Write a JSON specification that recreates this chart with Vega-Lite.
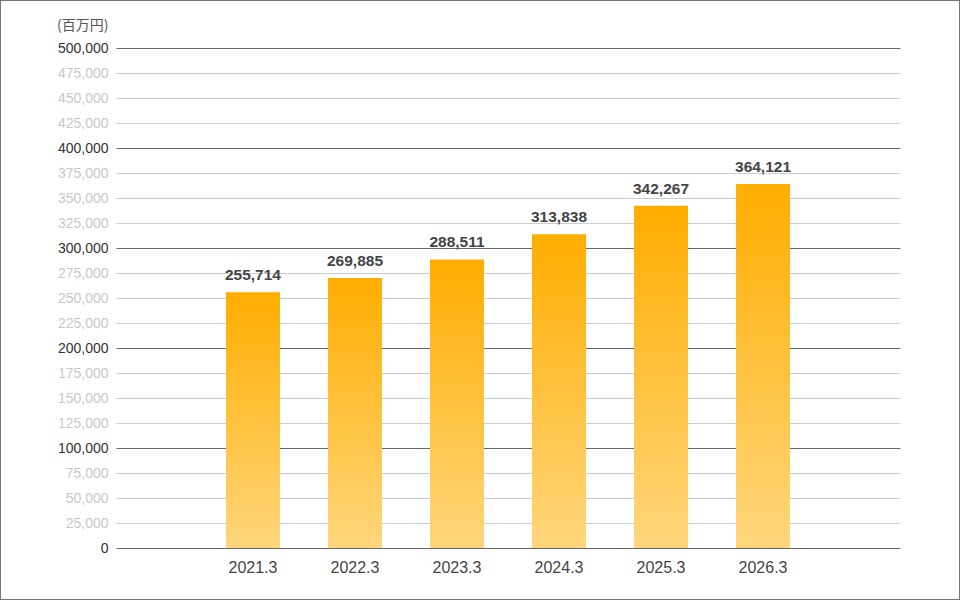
{
  "$schema": "https://vega.github.io/schema/vega-lite/v6.json",
  "width": 960,
  "height": 600,
  "autosize": "none",
  "padding": 0,
  "background": "white",
  "config": {
    "view": {"stroke": "#777777", "strokeWidth": 2},
    "font": "Liberation Sans"
  },
  "data": {
    "values": [
      {"year": "2021.3", "value": 255714},
      {"year": "2022.3", "value": 269885},
      {"year": "2023.3", "value": 288511},
      {"year": "2024.3", "value": 313838},
      {"year": "2025.3", "value": 342267},
      {"year": "2026.3", "value": 364121}
    ]
  },
  "encoding": {
    "x": {
      "field": "year",
      "type": "ordinal",
      "sort": null,
      "scale": {
        "domain": ["_L", "2021.3", "2022.3", "2023.3", "2024.3", "2025.3", "2026.3", "_R"],
        "range": [116, 900],
        "paddingInner": 0.4706,
        "paddingOuter": 0.078
      },
      "axis": {
        "title": null,
        "orient": "bottom",
        "offset": -52,
        "domain": false,
        "ticks": false,
        "grid": false,
        "labelAngle": 0,
        "labelFontSize": 16,
        "labelColor": "#444444",
        "labelPadding": 11,
        "labelFont": "Liberation Sans",
        "labelExpr": "datum.value[0] === '_' ? '' : datum.value"
      }
    },
    "y": {
      "field": "value",
      "type": "quantitative",
      "scale": {"domain": [-52000, 548000], "nice": false, "zero": false},
      "axis": {
        "title": "(百万円)",
        "titleFont": "Noto Sans CJK JP",
        "titleFontWeight": "normal",
        "titleFontSize": 14,
        "titleColor": "#555555",
        "titleAngle": 0,
        "titleAlign": "right",
        "titleBaseline": "middle",
        "titleX": -8,
        "titleY": 25,
        "offset": -116,
        "domain": false,
        "ticks": false,
        "labelPadding": 8,
        "labelFontSize": 14,
        "labelFont": "Liberation Sans",
        "values": [0, 25000, 50000, 75000, 100000, 125000, 150000, 175000, 200000, 225000, 250000, 275000, 300000, 325000, 350000, 375000, 400000, 425000, 450000, 475000, 500000],
        "format": ",d",
        "labelColor": {"condition": {"test": "datum.value % 100000 === 0", "value": "#333333"}, "value": "#c8c8c8"},
        "gridColor": {"condition": {"test": "datum.value % 100000 === 0", "value": "#666666"}, "value": "#cccccc"},
        "gridWidth": 1,
        "gridOpacity": 1
      }
    }
  },
  "layer": [
    {
      "mark": {
        "type": "bar",
        "color": {
          "gradient": "linear",
          "x1": 0, "y1": 0, "x2": 0, "y2": 1,
          "stops": [
            {"offset": 0, "color": "#ffad00"},
            {"offset": 1, "color": "#ffd67c"}
          ]
        }
      },
      "encoding": {
        "y2": {"datum": 0}
      }
    },
    {
      "mark": {
        "type": "text",
        "baseline": "bottom",
        "dy": -9,
        "fontSize": 15.5,
        "fontWeight": "bold",
        "color": "#444444",
        "font": "Liberation Sans"
      },
      "encoding": {
        "text": {"field": "value", "type": "quantitative", "format": ",d"}
      }
    }
  ]
}
